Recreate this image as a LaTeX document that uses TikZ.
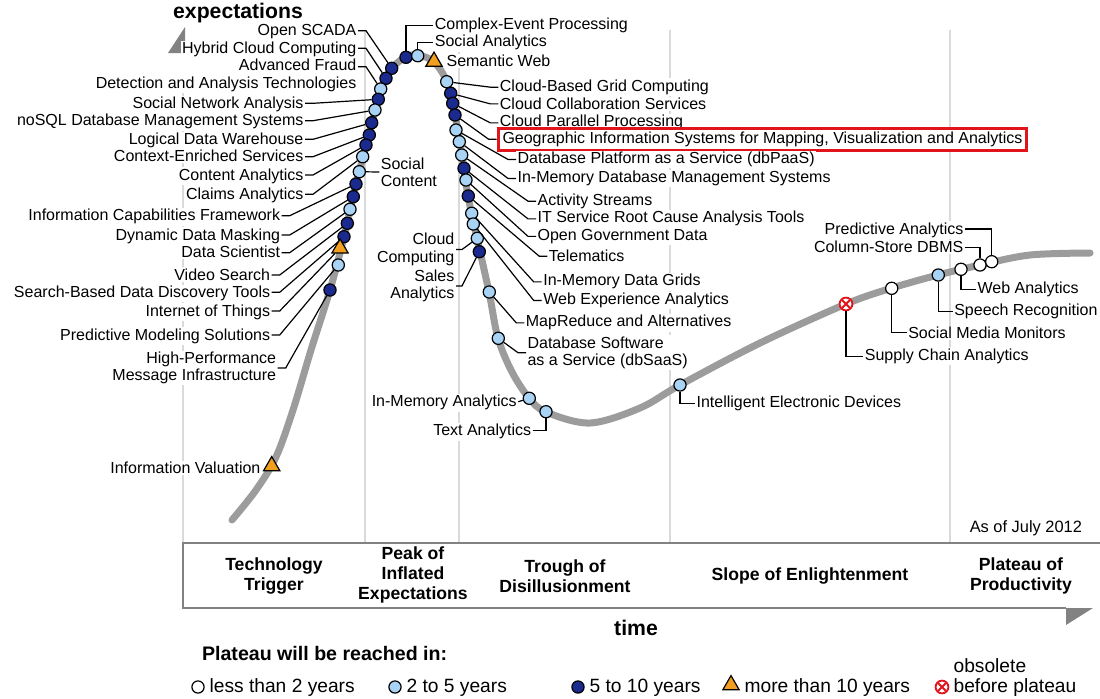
\documentclass[tikz,border=0pt]{standalone}
\usepackage{fontspec}
\setmainfont{Liberation Sans}
\usetikzlibrary{shapes.geometric}

\definecolor{curvegray}{HTML}{9C9C9C}
\definecolor{sepgray}{HTML}{DADADA}
\definecolor{axisgray}{HTML}{828282}
\definecolor{darkdot}{HTML}{1B2A8E}
\definecolor{lightdot}{HTML}{A9D3F5}
\definecolor{tripeak}{HTML}{F29E1F}
\definecolor{obsred}{HTML}{E3131B}

\begin{document}
\begin{tikzpicture}[
    % GLOBAL CFG
    x=0.5pt, y=-0.5pt,
    font=\fontsize{8}{8.7}\selectfont,
    % Styles
    hype/.style={% The hype curve itself
        draw=curvegray,
        line width=3.5pt,
        line cap=round,
        },
    phase/.style={% Borders between the phases
        draw=sepgray,
        line width=0.8pt,
        },
    frame/.style={% Box under the curve
        draw=axisgray,
        line width=1pt,
        },
    lbl/.style={% Technology names
        fill=white,
        inner sep=0.6pt,
        },
    lead/.style={% Leader lines to the dots
        draw=black,
        line width=0.6pt,
        },
    dot/.style={% Base for all markers
        circle,
        draw=black,
        line width=0.6pt,
        minimum size=6.1pt,
        inner sep=0pt,
        },
    dk/.style={dot, fill=darkdot},   % 5 to 10 years
    lt/.style={dot, fill=lightdot},  % 2 to 5 years
    wt/.style={dot, fill=white},     % less than 2 years
    tri/.style={% more than 10 years
        regular polygon,
        regular polygon sides=3,
        draw=black,
        line width=0.6pt,
        fill=tripeak,
        minimum size=9.4pt,
        inner sep=0pt,
        },
    obs/.style={% obsolete before plateau
        circle,
        draw=obsred,
        line width=0.9pt,
        fill=white,
        minimum size=6.4pt,
        inner sep=0pt,
        path picture={
            \draw[obsred, line width=0.9pt]
                ([shift={(-2pt,-2pt)}]path picture bounding box.center) -- ([shift={(2pt,2pt)}]path picture bounding box.center)
                ([shift={(-2pt,2pt)}]path picture bounding box.center) -- ([shift={(2pt,-2pt)}]path picture bounding box.center);
            },
        },
    phasename/.style={% Names under the curve
        font=\bfseries\fontsize{8.8}{9.8}\selectfont,
        align=center,
        },
    legend/.style={%
        font=\fontsize{9.6}{10.4}\selectfont,
        inner sep=0.6pt,
        },
    ]

    \useasboundingbox (0,0) rectangle (1100,698);

%Start drawing the thing...
    % Phase borders and axes
    \foreach \xx in {365,459,670,950}
        \draw[phase] (\xx,30) -- (\xx,543);
    \draw[phase] (183,53) -- (183,543);
    \fill[axisgray] (185,27) -- (185,53) -- (168,53) -- cycle;
    \draw[frame] (1100,543) -- (183,543) -- (183,608) -- (1066,608);
    \fill[axisgray] (1066,608) -- (1093,608) -- (1066,625) -- cycle;

    \node[font=\bfseries\fontsize{10.6}{12}\selectfont] (expect) at (238,13) {expectations};
    \node[font=\bfseries\fontsize{10.6}{12}\selectfont] (time) at (636,628) {time};
    \node[font=\fontsize{8.2}{9}\selectfont, anchor=east] (asof) at (1089,528) {As of July 2012};

    % The curve
    \draw[hype] plot[smooth, tension=0.55] coordinates {(232,520) (256,490) (276,457)
        (293,410) (311,350) (330,290) (344,237) (356,184) (369,135) (381,89) (392,68) (406,57)
        (418,55) (434,62) (447,82) (455,115) (462,155) (468,196) (477,238) (489,292) (498,338)
        (512,372) (529,398) (546,412) (590,423) (640,408) (680,385) (760,343) (846,304)
        (892,288) (938,275) (980,265) (1030,255) (1090,253)};

    % Phase names
    \node[phasename] (trigger) at (274,576) {Technology\\Trigger};
    \node[phasename] (peak) at (413,575) {Peak of\\Inflated\\Expectations};
    \node[phasename] (trough) at (565,576) {Trough of\\Disillusionment};
    \node[phasename] (slope) at (810,576) {Slope of Enlightenment};
    \node[phasename] (plateau) at (1021,576) {Plateau of\\Productivity};

    % Labels left of the rise
    \node[lbl, anchor=mid east] (scada) at (358,30.7) {Open SCADA};
    \node[lbl, anchor=mid east] (hybrid) at (358,48.3) {Hybrid Cloud Computing};
    \node[lbl, anchor=east, align=right] (fraud) at (358,75.3) {Advanced Fraud\\Detection and Analysis Technologies};
    \node[lbl, anchor=mid east] (sna) at (305,103.3) {Social Network Analysis};
    \node[lbl, anchor=mid east] (nosql) at (305,120.7) {noSQL Database Management Systems};
    \node[lbl, anchor=mid east] (ldw) at (305,139.3) {Logical Data Warehouse};
    \node[lbl, anchor=mid east] (ctx) at (305,156.7) {Context-Enriched Services};
    \node[lbl, anchor=mid east] (cont) at (305,175) {Content Analytics};
    \node[lbl, anchor=mid east] (claims) at (305,194.3) {Claims Analytics};
    \node[lbl, anchor=mid east] (icf) at (281.7,215.7) {Information Capabilities Framework};
    \node[lbl, anchor=mid east] (ddm) at (281.7,235) {Dynamic Data Masking};
    \node[lbl, anchor=mid east] (dsci) at (281.7,252.7) {Data Scientist};
    \node[lbl, anchor=mid east] (video) at (271.7,275) {Video Search};
    \node[lbl, anchor=mid east] (sbdd) at (271.7,292.3) {Search-Based Data Discovery Tools};
    \node[lbl, anchor=mid east] (iot) at (271.7,311) {Internet of Things};
    \node[lbl, anchor=mid east] (pms) at (271.7,335) {Predictive Modeling Solutions};
    \node[lbl, anchor=east, align=right] (hpmi) at (277.7,368) {High-Performance\\Message Infrastructure};
    \node[lbl, anchor=mid east] (infoval) at (262,468.3) {Information Valuation};
    \node[lbl, anchor=west, align=left] (soccont) at (379.3,172) {Social\\Content};

    % Labels at the peak
    \node[lbl, anchor=mid west] (cep) at (433.3,24) {Complex-Event Processing};
    \node[lbl, anchor=mid west] (soca) at (433.3,41.7) {Social Analytics};
    \node[lbl, anchor=mid west] (semweb) at (445,61.7) {Semantic Web};

    % Labels right of the fall
    \node[lbl, anchor=mid west] (cbgc) at (498.3,86) {Cloud-Based Grid Computing};
    \node[lbl, anchor=mid west] (ccs) at (498.3,104.3) {Cloud Collaboration Services};
    \node[lbl, anchor=mid west] (cpp) at (498.3,121.7) {Cloud Parallel Processing};
    \node[lbl, anchor=west, draw=obsred, line width=1.4pt, inner xsep=2.2pt, inner ysep=1.8pt] (gis) at (496.7,139.3) {Geographic Information Systems for Mapping, Visualization and Analytics};
    \node[lbl, anchor=mid west] (dbpaas) at (516,158.3) {Database Platform as a Service (dbPaaS)};
    \node[lbl, anchor=mid west] (imdbms) at (516,177.3) {In-Memory Database Management Systems};
    \node[lbl, anchor=mid west] (acts) at (536,200) {Activity Streams};
    \node[lbl, anchor=mid west] (itsrc) at (536,217.7) {IT Service Root Cause Analysis Tools};
    \node[lbl, anchor=mid west] (ogd) at (536,235) {Open Government Data};
    \node[lbl, anchor=mid west] (telem) at (547.3,256.7) {Telematics};
    \node[lbl, anchor=mid west] (imdg) at (541.7,280.7) {In-Memory Data Grids};
    \node[lbl, anchor=mid west] (wexp) at (541.7,299.3) {Web Experience Analytics};
    \node[lbl, anchor=east, align=right] (ccomp) at (456,249.5) {Cloud\\Computing};
    \node[lbl, anchor=east, align=right] (salesa) at (456,286) {Sales\\Analytics};
    \node[lbl, anchor=mid west] (mapred) at (524.3,321.7) {MapReduce and Alternatives};
    \node[lbl, anchor=west, align=left] (dbsaas) at (526,352.7) {Database Software\\as a Service (dbSaaS)};
    \node[lbl, anchor=mid east] (imana) at (518.3,401.7) {In-Memory Analytics};
    \node[lbl, anchor=mid east] (texta) at (532.7,430.7) {Text Analytics};

    % Labels along the slope
    \node[lbl, anchor=mid west] (ied) at (695,402.7) {Intelligent Electronic Devices};
    \node[lbl, anchor=mid west] (supply) at (863.3,355) {Supply Chain Analytics};
    \node[lbl, anchor=mid west] (smm) at (906.7,333.3) {Social Media Monitors};
    \node[lbl, anchor=mid west] (speech) at (952.7,310) {Speech Recognition};
    \node[lbl, anchor=mid west] (weba) at (976,288.3) {Web Analytics};
    \node[lbl, anchor=mid east] (csdb) at (965,247.7) {Column-Store DBMS};
    \node[lbl, anchor=mid east] (preda) at (965,229) {Predictive Analytics};

    % Draw the markers on the curve
    \node[dk] (scada_dot) at (391.7,68.3) {};
    \node[dk] (hybrid_dot) at (386,78.3) {};
    \node[lt] (fraud_dot) at (380.7,89) {};
    \node[dk] (sna_dot) at (378.3,99.3) {};
    \node[lt] (nosql_dot) at (375,110) {};
    \node[dk] (ldw_dot) at (371.7,122.7) {};
    \node[dk] (ctx_dot) at (369.3,135) {};
    \node[dk] (cont_dot) at (366,145) {};
    \node[lt] (claims_dot) at (362.7,156.7) {};
    \node[lt] (soccont_dot) at (359.3,171.7) {};
    \node[dk] (icf_dot) at (356,184) {};
    \node[dk] (ddm_dot) at (353.3,196.7) {};
    \node[lt] (dsci_dot) at (350,209.3) {};
    \node[dk] (video_dot) at (347.3,223.3) {};
    \node[dk] (sbdd_dot) at (344,236.7) {};
    \node[tri] (iot_dot) at (340,248.3) {};
    \node[lt] (pms_dot) at (338.3,265) {};
    \node[dk] (hpmi_dot) at (330,290) {};
    \node[tri] (infoval_dot) at (271.7,466) {};

    \node[dk] (cep_dot) at (406,57.3) {};
    \node[lt] (soca_dot) at (417.7,55.7) {};
    \node[tri] (semweb_dot) at (434,61.5) {};

    \node[lt] (cbgc_dot) at (446.7,81.7) {};
    \node[dk] (ccs_dot) at (450.7,93.3) {};
    \node[dk] (cpp_dot) at (452.7,103.3) {};
    \node[dk] (gis_dot) at (455,115) {};
    \node[lt] (dbpaas_dot) at (456,130) {};
    \node[lt] (imdbms_dot) at (459.3,141.7) {};
    \node[lt] (acts_dot) at (461.7,155) {};
    \node[dk] (itsrc_dot) at (464,168.3) {};
    \node[lt] (ogd_dot) at (466,180) {};
    \node[dk] (telem_dot) at (468.3,196) {};
    \node[lt] (imdg_dot) at (471.7,213.3) {};
    \node[lt] (wexp_dot) at (473.3,224) {};
    \node[lt] (ccomp_dot) at (477.3,238.3) {};
    \node[dk] (salesa_dot) at (479.3,251.7) {};
    \node[lt] (mapred_dot) at (489.3,292) {};
    \node[lt] (dbsaas_dot) at (498.3,338.3) {};
    \node[lt] (imana_dot) at (529.3,398.3) {};
    \node[lt] (texta_dot) at (546,411.7) {};

    \node[lt] (ied_dot) at (680,385) {};
    \node[obs] (supply_dot) at (846,304) {};
    \node[wt] (smm_dot) at (891.7,288.3) {};
    \node[lt] (speech_dot) at (938.3,275) {};
    \node[wt] (weba_dot) at (961,269.3) {};
    \node[wt] (csdb_dot) at (980,265) {};
    \node[wt] (preda_dot) at (991.7,261.7) {};

% Start connecting all.
    % Rise
    \foreach \tn in {scada,hybrid,sna,nosql,ldw,ctx,cont,claims,icf,ddm,dsci,video,sbdd,iot,pms}
        \draw[lead] (\tn.mid east) -- ++(4pt,0) -- (\tn_dot);
    \draw[lead] ([yshift=4.3pt]fraud.east) -- ++(4pt,0) -- (fraud_dot);
    \draw[lead] (hpmi.east) -- ++(4pt,0) -- (hpmi_dot);
    \draw[lead] (soccont_dot) -- (soccont.west);

    % Peak
    \draw[lead] (cep_dot) |- (cep.west);
    \draw[lead] (soca_dot) |- (soca.west);

    % Fall
    \foreach \tn in {cbgc,ccs,cpp,gis,dbpaas,imdbms,acts,itsrc,ogd,telem,imdg,wexp,mapred,dbsaas}
        \draw[lead] (\tn_dot) -- ([xshift=-4pt]\tn.west) -- (\tn.west);
    \draw[lead] (ccomp.east) -- ++(3pt,0) -- (ccomp_dot);
    \draw[lead] (salesa.east) -- ++(3pt,0) -- (salesa_dot);
    \draw[lead] (imana.mid east) -- (imana_dot);
    \draw[lead] (texta.mid east) -| (texta_dot);

    % Slope
    \foreach \tn in {ied,supply,smm,speech,weba}
        \draw[lead] (\tn_dot) |- (\tn.west);
    \draw[lead] (csdb.mid east) -| (csdb_dot);
    \draw[lead] (preda.mid east) -| (preda_dot);

    % Legend
    \node[font=\bfseries\fontsize{9.8}{11}\selectfont, anchor=mid west] (legtitle) at (195,655) {Plateau will be reached in:};
    \node[wt] (leg_wt) at (198,687) {};
    \node[legend, anchor=mid west] (leg_wt_txt) at (208,687) {less than 2 years};
    \node[lt] (leg_lt) at (395,687) {};
    \node[legend, anchor=mid west] (leg_lt_txt) at (405,687) {2 to 5 years};
    \node[dk] (leg_dk) at (578,687) {};
    \node[legend, anchor=mid west] (leg_dk_txt) at (588,687) {5 to 10 years};
    \node[tri] (leg_tri) at (731,685) {};
    \node[legend, anchor=mid west] (leg_tri_txt) at (743,687) {more than 10 years};
    \node[obs] (leg_obs) at (942,687) {};
    \node[legend, anchor=mid west] (leg_obs_txt) at (952,687) {before plateau};
    \node[legend, anchor=mid west] (leg_obs_top) at (952,667) {obsolete};

\end{tikzpicture}
\end{document}
